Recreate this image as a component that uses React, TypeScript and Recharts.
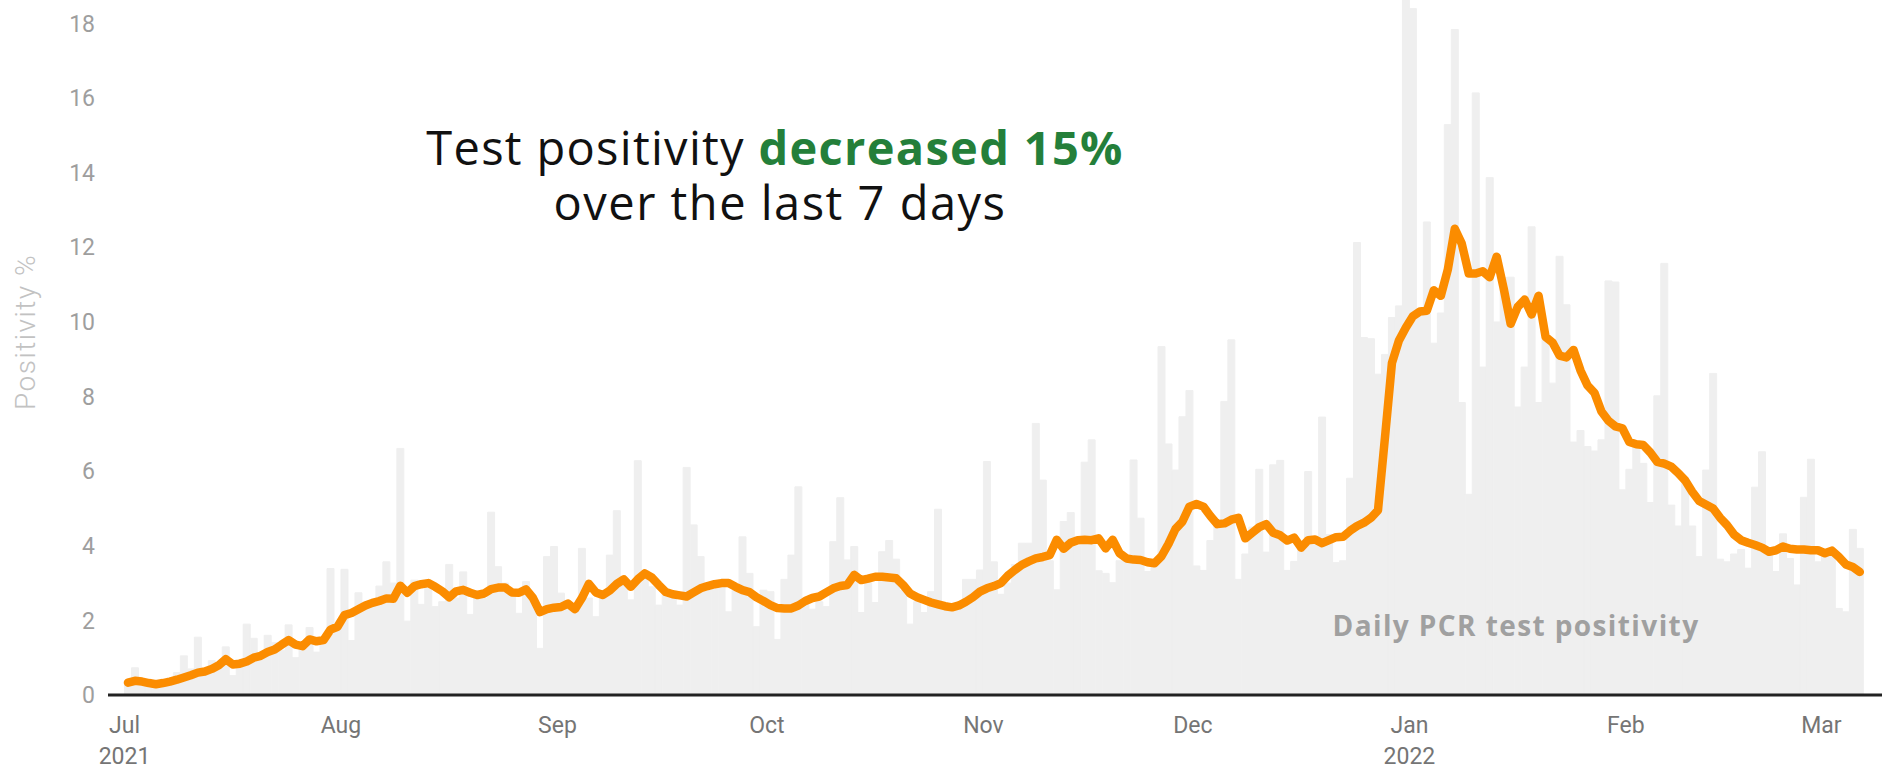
import React from 'react';
import { ComposedChart, Bar, Line, XAxis, YAxis } from 'recharts';

// daily PCR test positivity (%), one value per day, Jul 1 2021 - Mar 6 2022
const julDaily = [0.3, 0.73, 0.4, 0.25, 0.3, 0.35, 0.45, 0.6, 1.05, 0.7, 1.55, 0.6, 0.92, 0.7, 1.29, 0.52, 0.9, 1.9, 1.52, 1.1, 1.6, 1.4, 1.2, 1.88, 1.0, 1.3, 1.81, 1.15, 1.5, 3.39, 1.9];
const augDaily = [3.37, 1.46, 2.74, 2.4, 2.5, 2.92, 3.57, 3.0, 6.61, 1.98, 3.08, 2.43, 3.0, 2.37, 2.5, 3.5, 2.6, 3.3, 2.16, 2.7, 2.6, 4.9, 3.44, 3.0, 2.8, 2.19, 3.04, 2.5, 1.25, 3.71, 3.98];
const sepDaily = [2.73, 2.5, 2.4, 3.93, 2.6, 2.1, 2.8, 3.75, 4.94, 3.0, 2.55, 6.28, 3.2, 2.9, 2.41, 2.8, 2.7, 2.41, 6.1, 4.56, 3.71, 2.8, 2.9, 2.9, 2.23, 2.8, 4.24, 3.26, 1.83, 2.81];
const octDaily = [2.77, 1.49, 3.1, 3.75, 5.58, 2.6, 2.3, 2.5, 2.37, 4.11, 5.29, 3.62, 3.98, 2.21, 3.0, 2.48, 3.84, 4.14, 3.64, 2.8, 1.9, 2.5, 2.21, 2.77, 4.98, 2.4, 2.3, 2.4, 3.1, 3.1, 3.35];
const novDaily = [6.26, 3.57, 2.7, 3.0, 3.5, 4.07, 4.07, 7.28, 5.76, 3.6, 2.82, 4.65, 4.89, 4.0, 6.24, 6.84, 3.33, 3.26, 3.01, 3.6, 3.6, 6.3, 4.74, 3.31, 3.6, 9.34, 6.73, 6.03, 7.46, 8.16];
const decDaily = [3.46, 3.34, 4.14, 4.7, 7.87, 9.52, 3.1, 3.78, 4.5, 6.05, 3.83, 6.17, 6.29, 3.34, 3.58, 4.1, 5.99, 4.2, 7.45, 4.3, 3.55, 3.6, 5.81, 12.13, 9.58, 9.55, 8.6, 9.13, 10.12, 10.43, 19.5];
const janDaily = [18.4, 10.3, 12.68, 9.43, 10.24, 15.29, 17.84, 7.84, 5.38, 16.14, 8.79, 13.87, 10.0, 11.19, 11.2, 7.72, 8.79, 12.55, 7.84, 9.58, 8.36, 11.76, 10.46, 6.78, 7.09, 6.66, 6.54, 6.84, 11.1, 11.07, 5.5];
const febDaily = [6.05, 6.75, 6.21, 5.16, 8.02, 11.57, 5.09, 4.53, 5.76, 4.53, 3.71, 6.03, 8.62, 3.64, 3.57, 3.78, 3.9, 3.4, 5.57, 6.52, 3.84, 3.31, 4.32, 3.66, 2.95, 5.3, 6.32, 3.57];
const marDaily = [3.84, 3.8, 2.32, 2.23, 4.44, 3.93];

// 7-day average positivity (%)
const julAvg = [0.33, 0.38, 0.36, 0.32, 0.29, 0.32, 0.36, 0.41, 0.47, 0.53, 0.6, 0.63, 0.7, 0.8, 0.96, 0.82, 0.84, 0.9, 1.0, 1.05, 1.15, 1.22, 1.35, 1.47, 1.35, 1.31, 1.49, 1.44, 1.47, 1.75, 1.83];
const augAvg = [2.14, 2.2, 2.3, 2.4, 2.47, 2.52, 2.59, 2.58, 2.93, 2.74, 2.92, 2.97, 3.0, 2.9, 2.78, 2.62, 2.78, 2.82, 2.74, 2.68, 2.72, 2.84, 2.88, 2.88, 2.75, 2.74, 2.83, 2.6, 2.22, 2.3, 2.34];
const sepAvg = [2.36, 2.45, 2.3, 2.6, 2.98, 2.75, 2.68, 2.8, 2.98, 3.1, 2.9, 3.1, 3.26, 3.15, 2.95, 2.76, 2.7, 2.67, 2.64, 2.75, 2.86, 2.92, 2.97, 3.0, 3.0, 2.9, 2.81, 2.76, 2.62, 2.52];
const octAvg = [2.41, 2.33, 2.32, 2.32, 2.4, 2.52, 2.6, 2.64, 2.75, 2.86, 2.92, 2.95, 3.22, 3.08, 3.12, 3.17, 3.17, 3.15, 3.13, 2.95, 2.72, 2.62, 2.55, 2.48, 2.43, 2.38, 2.35, 2.4, 2.5, 2.62, 2.77];
const novAvg = [2.86, 2.92, 3.0, 3.2, 3.35, 3.49, 3.58, 3.66, 3.7, 3.75, 4.16, 3.92, 4.08, 4.15, 4.16, 4.15, 4.2, 3.93, 4.16, 3.8, 3.66, 3.63, 3.62, 3.56, 3.53, 3.72, 4.05, 4.45, 4.65, 5.05];
const decAvg = [5.12, 5.05, 4.8, 4.58, 4.6, 4.7, 4.75, 4.2, 4.35, 4.5, 4.58, 4.35, 4.28, 4.14, 4.22, 3.95, 4.15, 4.17, 4.07, 4.15, 4.23, 4.24, 4.4, 4.53, 4.62, 4.75, 4.95, 6.9, 8.9, 9.5, 9.85];
const janAvg = [10.15, 10.28, 10.3, 10.85, 10.7, 11.4, 12.5, 12.1, 11.3, 11.3, 11.36, 11.2, 11.75, 10.9, 9.95, 10.4, 10.6, 10.2, 10.7, 9.6, 9.45, 9.1, 9.05, 9.25, 8.7, 8.3, 8.1, 7.6, 7.35, 7.2, 7.15];
const febAvg = [6.78, 6.72, 6.7, 6.5, 6.25, 6.2, 6.12, 5.95, 5.75, 5.45, 5.2, 5.1, 5.0, 4.75, 4.55, 4.3, 4.15, 4.08, 4.02, 3.95, 3.84, 3.88, 3.98, 3.92, 3.9, 3.9, 3.88, 3.88];
const marAvg = [3.8, 3.87, 3.7, 3.5, 3.43, 3.3];

const months: [string, number[], number[]][] = [
  ['Jul', julDaily, julAvg],
  ['Aug', augDaily, augAvg],
  ['Sep', sepDaily, sepAvg],
  ['Oct', octDaily, octAvg],
  ['Nov', novDaily, novAvg],
  ['Dec', decDaily, decAvg],
  ['Jan', janDaily, janAvg],
  ['Feb', febDaily, febAvg],
  ['Mar', marDaily, marAvg],
];

const tickYears: Record<string, string> = { Jul: '2021', Jan: '2022' };
const yTicks = [0, 2, 4, 6, 8, 10, 12, 14, 16, 18];

const data = months.flatMap(([m, daily, avg]) =>
  daily.map((v, i) => ({ day: `${m} ${i + 1}`, daily: v, avg: avg[i] }))
);

const MonthTick = ({ x, y, payload }: any) => {
  const [m, d] = String(payload.value).split(' ');
  if (d !== '1') return <g />;
  const year = tickYears[m];
  return (
    <g transform={`translate(${x - 3.5},${y})`}>
      <text textAnchor="middle" y={38} fill="#757575" fontSize={23} fontFamily="Roboto">
        {m}
      </text>
      {year && (
        <text textAnchor="middle" y={69} fill="#757575" fontSize={23} fontFamily="Roboto">
          {year}
        </text>
      )}
    </g>
  );
};

export default function App() {
  return (
    <div style={{ position: 'absolute', left: 0, top: 0, width: 1882, height: 769, background: '#fff' }}>
      <ComposedChart
        width={1882}
        height={769}
        data={data}
        margin={{ top: 0, right: 0, bottom: 0, left: 0 }}
        barCategoryGap={0}
        barGap={0}
      >
        <XAxis
          dataKey="day"
          interval={0}
          tick={<MonthTick />}
          tickLine={false}
          tickSize={0}
          tickMargin={0}
          height={74}
          padding={{ left: 16.5, right: 18.7 }}
          axisLine={{ stroke: '#222', strokeWidth: 3 }}
        />
        <YAxis
          width={108}
          domain={[0, 18.63]}
          ticks={yTicks}
          allowDataOverflow
          axisLine={false}
          tickLine={false}
          tickSize={0}
          tickMargin={13}
          tick={{ fill: '#9e9e9e', fontSize: 23, fontFamily: 'Roboto' }}
        />
        <Bar dataKey="daily" fill="#efefef" stroke="#efefef" strokeWidth={1} isAnimationActive={false} />
        <Line
          dataKey="avg"
          type="linear"
          stroke="#fb8c00"
          strokeWidth={8.5}
          strokeLinejoin="round"
          strokeLinecap="round"
          dot={false}
          activeDot={false}
          isAnimationActive={false}
        />
      </ComposedChart>
      <svg
        width={1882}
        height={769}
        style={{ position: 'absolute', left: 0, top: 0, pointerEvents: 'none' }}
      >
        <text x={775} y={165} textAnchor="middle" fontFamily="Open Sans" fontSize={47} letterSpacing={1.3} fill="#111">
          <tspan fontWeight={400}>Test positivity </tspan>
          <tspan fontWeight={700} fill="#247f3a">decreased 15%</tspan>
        </text>
        <text x={780} y={220} textAnchor="middle" fontFamily="Open Sans" fontSize={47} letterSpacing={1.5} fontWeight={400} fill="#111">
          over the last 7 days
        </text>
        <text x={1516} y={636} textAnchor="middle" fontFamily="Open Sans" fontSize={28} letterSpacing={1.4} fontWeight={700} fill="#a0a0a0">
          Daily PCR test positivity
        </text>
        <text
          transform="translate(35,332) rotate(-90)"
          textAnchor="middle"
          fontFamily="Roboto"
          fontWeight={300}
          fontSize={28}
          letterSpacing={1.5}
          fill="#c2c2c2"
        >
          Positivity %
        </text>
      </svg>
    </div>
  );
}
